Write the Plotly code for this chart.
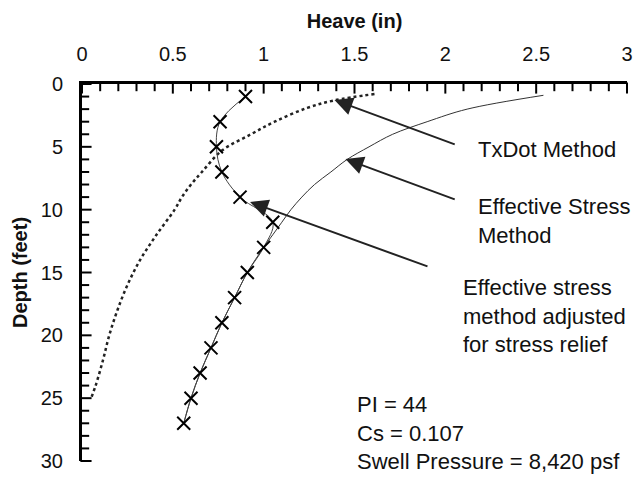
import plotly.graph_objects as go

# Heave profiles vs depth
txdot_depth = [0.8, 1.3, 1.9, 3, 4, 5.3, 7, 8, 9, 10, 12, 14, 16, 18, 20, 22, 24, 25]
txdot_heave = [1.61, 1.39, 1.24, 1.06, 0.93, 0.77, 0.66, 0.60, 0.55, 0.51, 0.41, 0.32,
               0.25, 0.195, 0.15, 0.115, 0.075, 0.05]

eff_depth = [0.9, 2, 3, 4, 5, 6, 7, 8, 9, 10, 11, 12, 13, 15, 17, 19, 21, 23, 25, 27]
eff_heave = [2.54, 2.12, 1.90, 1.71, 1.58, 1.46, 1.37, 1.28, 1.21, 1.15, 1.10, 1.05,
             1.00, 0.91, 0.84, 0.77, 0.71, 0.65, 0.60, 0.56]

adj_depth = [1, 3, 5, 7, 9, 11, 13, 15, 17, 19, 21, 23, 25, 27]
adj_heave = [0.90, 0.76, 0.74, 0.77, 0.87, 1.05, 1.00, 0.91, 0.84, 0.77, 0.71, 0.65, 0.60, 0.56]

# Axis tick positions
heave_ticks = [i / 10 for i in range(0, 31)]
depth_ticks = list(range(0, 31))

# Callout arrows: tip (heave, depth) and tail (heave, depth)
arrow_tips = [(1.39, 1.27), (1.45, 5.97), (0.925, 9.39)]
arrow_tails = [(2.06, 4.85), (2.06, 9.23), (1.91, 14.56)]

# Label blocks: text, left edge heave, center depth
labels = [
    ("TxDot Method", 2.167, 5.25),
    ("Effective Stress<br>Method", 2.167, 10.94),
    ("Effective stress<br>method adjusted<br>for stress relief", 2.085, 18.5),
    ("PI = 44<br>Cs = 0.107<br>Swell Pressure = 8,420 psf", 1.503, 27.8),
]

FONT = "Liberation Sans, Arial, sans-serif"
X_RANGE = [0, 3]
Y_RANGE = [30, 0]
PLOT_W, PLOT_H = 551, 377          # plot area size in px (642-82-9, 483-84-22)
TICK_MAJOR, TICK_MINOR = 8, 6      # inward tick lengths in px

fig = go.Figure()

fig.add_trace(go.Scatter(
    x=txdot_heave, y=txdot_depth, mode="lines", line_shape="spline",
    line=dict(color="#222", width=2.5, dash="3px,3px"), showlegend=False,
))
fig.add_trace(go.Scatter(
    x=eff_heave, y=eff_depth, mode="lines", line_shape="spline",
    line=dict(color="#333", width=1), showlegend=False,
))
fig.add_trace(go.Scatter(
    x=adj_heave, y=adj_depth, mode="lines+markers", line_shape="spline",
    line=dict(color="#444", width=1),
    marker=dict(symbol="x-thin", size=13, line=dict(color="#000", width=2)),
    showlegend=False,
))

# Inward tick marks: line markers sitting just inside each axis line
px_per_ft = PLOT_H / abs(Y_RANGE[0] - Y_RANGE[1])
px_per_in = PLOT_W / (X_RANGE[1] - X_RANGE[0])
for major in (True, False):
    L = TICK_MAJOR if major else TICK_MINOR
    hx = [v for i, v in enumerate(heave_ticks) if (i % 5 == 0) == major]
    fig.add_trace(go.Scatter(
        x=hx, y=[L / 2 / px_per_ft] * len(hx), mode="markers", cliponaxis=False,
        marker=dict(symbol="line-ns", size=L, line=dict(color="black", width=2)),
        hoverinfo="skip", showlegend=False,
    ))
    dy = [d for d in depth_ticks if (d % 5 == 0) == major]
    fig.add_trace(go.Scatter(
        x=[L / 2 / px_per_in] * len(dy), y=dy, mode="markers", cliponaxis=False,
        marker=dict(symbol="line-ew", size=L, line=dict(color="black", width=2)),
        hoverinfo="skip", showlegend=False,
    ))

for (tx, ty), (sx, sy) in zip(arrow_tips, arrow_tails):
    fig.add_annotation(
        x=tx, y=ty, ax=sx, ay=sy, xref="x", yref="y", axref="x", ayref="y",
        text="", showarrow=True, arrowhead=2, arrowsize=1.8, arrowwidth=2,
        arrowcolor="#222",
    )

for txt, lx, ly in labels:
    fig.add_annotation(
        x=lx, y=ly, xref="x", yref="y", text=txt, showarrow=False,
        xanchor="left", yanchor="middle", align="left",
        font=dict(family=FONT, size=22, color="#111"),
    )

fig.update_xaxes(
    range=X_RANGE, side="top", dtick=0.5, tick0=0,
    showline=True, linecolor="black", linewidth=3,
    ticks="", showgrid=False, zeroline=False, ticklabelstandoff=12,
    tickfont=dict(family=FONT, size=20, color="#111"),
    title=dict(text="Heave (in)", standoff=10,
               font=dict(family=FONT, size=20, color="#111", weight="bold")),
)
fig.update_yaxes(
    range=Y_RANGE, dtick=5, tick0=0,
    showline=True, linecolor="black", linewidth=3,
    ticks="", showgrid=False, zeroline=False, ticklabelstandoff=12,
    tickfont=dict(family=FONT, size=20, color="#111"),
    title=dict(text="Depth (feet)", standoff=8,
               font=dict(family=FONT, size=20, color="#111", weight="bold")),
)

fig.update_layout(
    width=642, height=483,
    margin=dict(l=82, r=9, t=84, b=22),
    paper_bgcolor="white", plot_bgcolor="white",
)

fig.write_html("out.html")
